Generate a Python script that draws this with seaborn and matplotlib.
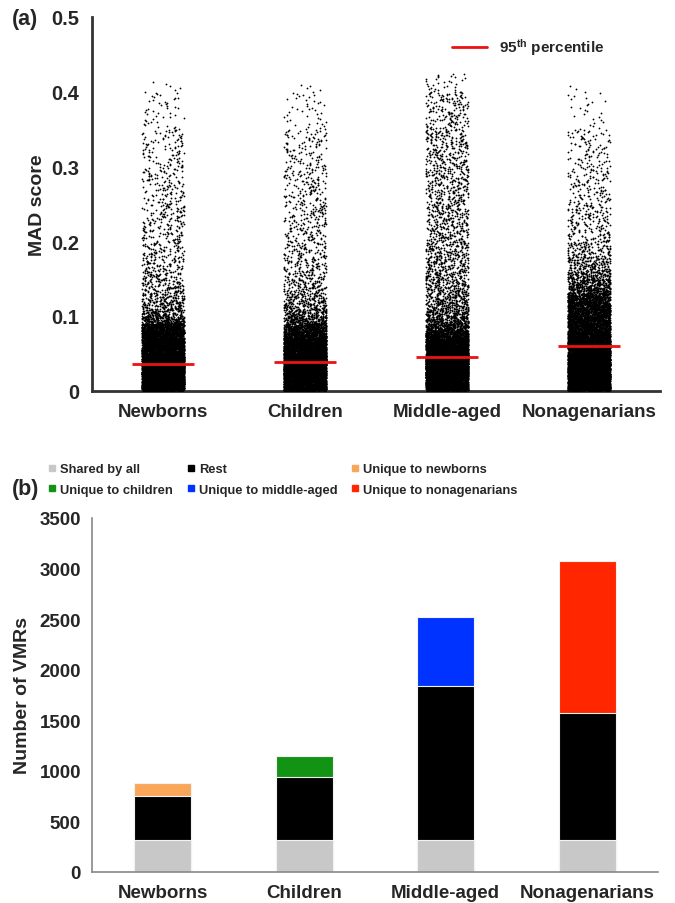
import numpy as np
import pandas as pd
import matplotlib.pyplot as plt
from matplotlib.lines import Line2D
import seaborn as sns

sns.set_style('white')
plt.rcParams['font.family'] = ['Liberation Sans', 'DejaVu Sans']
plt.rcParams['font.weight'] = 'bold'
plt.rcParams['mathtext.fontset'] = 'custom'
plt.rcParams['mathtext.rm'] = 'Liberation Sans:bold'
plt.rcParams['mathtext.it'] = 'Liberation Sans:bold'
plt.rcParams['mathtext.bf'] = 'Liberation Sans:bold'

groups = ['Newborns', 'Children', 'Middle-aged', 'Nonagenarians']

mad_edges = [0, 0.05, 0.07, 0.08, 0.09, 0.10, 0.11, 0.12, 0.13, 0.14, 0.15,
             0.16, 0.18, 0.20, 0.25, 0.30, 0.35, 0.40]
mad_max = [0.415, 0.412, 0.425, 0.412]
n_newborns = [5000, 1500, 600, 500, 220, 130, 100, 80, 65, 55, 50,
              80, 70, 150, 120, 95, 45, 6]
n_children = [5000, 1500, 500, 380, 200, 130, 100, 80, 65, 55, 48,
              80, 70, 150, 130, 100, 40, 5]
n_middle = [5000, 1500, 500, 300, 200, 150, 120, 100, 90, 85, 80,
            140, 130, 270, 240, 220, 160, 30]
n_nonag = [5000, 1500, 600, 500, 500, 480, 450, 360, 230, 170, 130,
           170, 110, 170, 120, 90, 25, 3]
p95 = [0.0356, 0.0387, 0.045, 0.0596]

# panel (b): number of VMRs
shared = [315, 315, 315, 315]
rest = [440, 622, 1528, 1258]
unique = [125, 213, 676, 1500]
unique_colors = ['#f9a65a', '#139313', '#0033ff', '#ff2600']

rows = []
for g, counts, top in zip(groups, [n_newborns, n_children, n_middle, n_nonag], mad_max):
    edges = mad_edges + [top]
    for lo, hi, n in zip(edges[:-1], edges[1:], counts):
        for v in np.linspace(lo, hi, n, endpoint=False):
            rows.append((g, v))
mad = pd.DataFrame(rows, columns=['group', 'mad'])

fig = plt.figure(figsize=(6.75, 9.04), dpi=100)
ax1 = fig.add_axes([92 / 675, 1 - 391.7 / 904, 568 / 675, 373.7 / 904])
ax2 = fig.add_axes([92 / 675, 1 - 873 / 904, 566 / 675, 354 / 904])

# (a) strip plot
np.random.seed(3)
sns.stripplot(data=mad, x='group', y='mad', order=groups, jitter=0.15,
              size=1.3, color='black', linewidth=0, ax=ax1)
for i, v in enumerate(p95):
    ax1.hlines(v, i - 0.22, i + 0.22, color='#ee1111', lw=2, zorder=5)
ax1.set_xlim(-0.5, 3.5)
ax1.set_ylim(0, 0.5)
ax1.set_yticks([0, 0.1, 0.2, 0.3, 0.4, 0.5])
ax1.set_yticklabels(['0', '0.1', '0.2', '0.3', '0.4', '0.5'])
ax1.set_xlabel('')
ax1.set_ylabel('MAD score', fontsize=14, fontweight='bold', labelpad=4)
sns.despine(ax=ax1)
for s in ['left', 'bottom']:
    ax1.spines[s].set_color('#333333')
    ax1.spines[s].set_linewidth(2)
ax1.tick_params(axis='y', length=5, width=2, color='#333333', labelsize=14.5, pad=4)
ax1.tick_params(axis='x', length=0, labelsize=13.5, pad=9)
for t in ax1.get_xticklabels() + ax1.get_yticklabels():
    t.set_fontweight('bold')
fig.legend(handles=[Line2D([], [], color='#ee1111', lw=2)],
           labels=['95$^{th}$ percentile'], loc='center left',
           bbox_to_anchor=(444 / 675, 1 - 48 / 904), frameon=False,
           handlelength=2.3, handletextpad=0.8, borderpad=0,
           prop={'size': 11, 'weight': 'bold'})

# (b) stacked bars, drawn back to front as cumulative heights
totals = [s + r + u for s, r, u in zip(shared, rest, unique)]
lower = [s + r for s, r in zip(shared, rest)]
bar_kw = dict(width=0.4, edgecolor='#f2f2f2', linewidth=0.8, saturation=1, ax=ax2)
sns.barplot(x=groups, y=totals, hue=groups, palette=unique_colors, legend=False, **bar_kw)
sns.barplot(x=groups, y=lower, color='black', **bar_kw)
sns.barplot(x=groups, y=shared, color='#c8c8c8', **bar_kw)
ax2.set_xlim(-0.5, 3.5)
ax2.set_ylim(0, 3500)
ax2.set_yticks(range(0, 3501, 500))
ax2.set_ylabel('Number of VMRs', fontsize=14, fontweight='bold', labelpad=6)
sns.despine(ax=ax2)
for s in ['left', 'bottom']:
    ax2.spines[s].set_color('#888888')
    ax2.spines[s].set_linewidth(1.2)
ax2.set_xticks([0.5, 1.5, 2.5], minor=True)
ax2.tick_params(axis='x', which='major', length=0, labelsize=13.5, pad=9)
ax2.tick_params(axis='x', which='minor', length=4, width=1.2, color='#888888')
ax2.tick_params(axis='y', length=4, width=1.2, color='#888888', labelsize=13.5, pad=4)
for t in ax2.get_xticklabels() + ax2.get_yticklabels():
    t.set_fontweight('bold')

labels_b = ['Shared by all', 'Unique to children', 'Rest', 'Unique to middle-aged',
            'Unique to newborns', 'Unique to nonagenarians']
colors_b = ['#c8c8c8', unique_colors[1], 'black', unique_colors[2],
            unique_colors[0], unique_colors[3]]
handles_b = [Line2D([], [], marker='s', ls='', color=c, markersize=4.5) for c in colors_b]
fig.legend(handles=handles_b, labels=labels_b, ncol=3, loc='upper left',
           bbox_to_anchor=(41 / 675, 1 - 458 / 904), frameon=False,
           handlelength=0.7, handletextpad=0.3, columnspacing=1.0,
           labelspacing=0.65, borderpad=0, prop={'size': 9.3, 'weight': 'bold'})

fig.text(12 / 675, 1 - 20 / 904, '(a)', fontsize=15.5, fontweight='bold', va='center')
fig.text(12 / 675, 1 - 490 / 904, '(b)', fontsize=15.5, fontweight='bold', va='center')

fig.savefig('out.png', dpi=100)
